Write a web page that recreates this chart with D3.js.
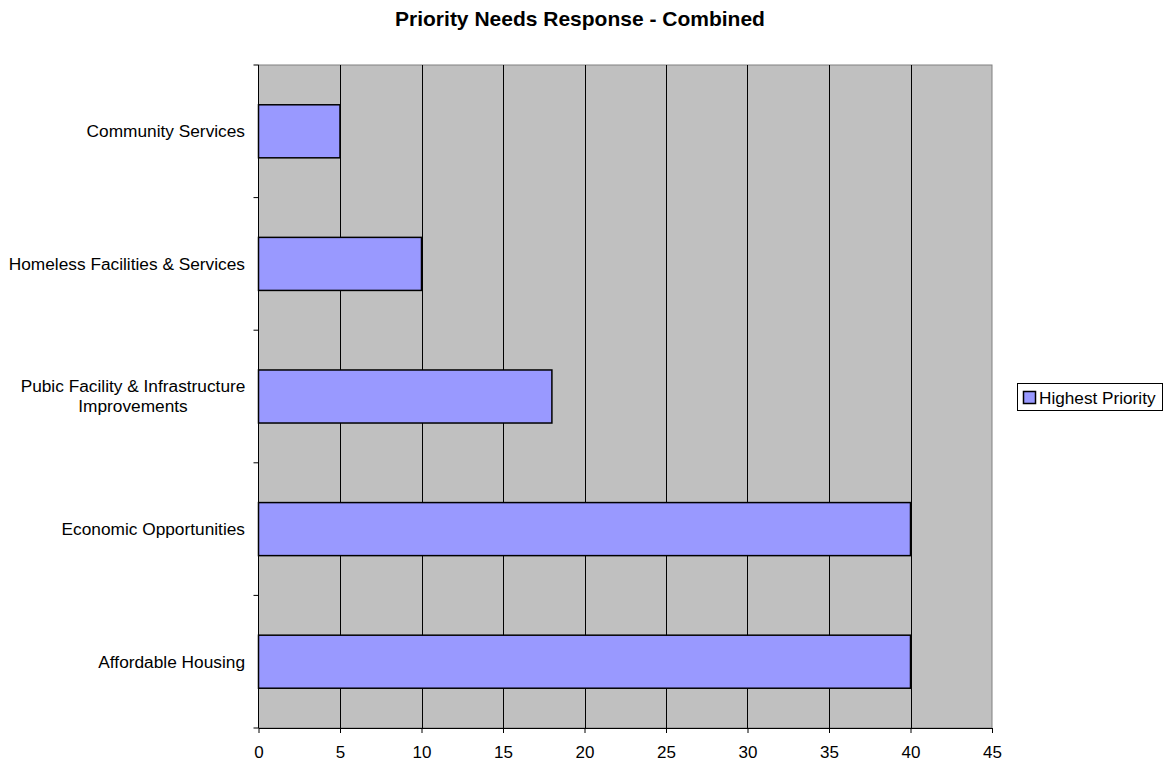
<!DOCTYPE html>
<html>
<head>
<meta charset="utf-8">
<script src="https://cdn.jsdelivr.net/npm/d3@7"></script>
<style>
body { margin: 0; background: #fff; }
text { font-family: "Liberation Sans", Arial, sans-serif; fill: #000; }
</style>
</head>
<body>
<svg width="1168" height="763"></svg>
<script>
var categories = ["Community Services", "Homeless Facilities & Services",
    "Pubic Facility & Infrastructure Improvements", "Economic Opportunities", "Affordable Housing"];
var values = [5, 10, 18, 40, 40];
var xTicks = [0, 5, 10, 15, 20, 25, 30, 35, 40, 45];
var seriesName = "Highest Priority";
var title = "Priority Needs Response - Combined";

var svg = d3.select("svg");
var plotLeft = 258.5, plotRight = 992, plotTop = 65, plotBottom = 728;

var x = d3.scaleLinear().domain([0, 45]).range([plotLeft, plotRight]);
var y = d3.scaleBand().domain(categories).range([plotTop, plotBottom]).paddingInner(0.6).paddingOuter(0.3);
var band = (plotBottom - plotTop) / categories.length;

svg.append("text")
    .attr("x", 580).attr("y", 26)
    .attr("text-anchor", "middle")
    .style("font-size", "21px").style("font-weight", "bold")
    .text(title);

// plot background
svg.append("rect")
    .attr("x", plotLeft).attr("y", plotTop)
    .attr("width", plotRight - plotLeft).attr("height", plotBottom - plotTop)
    .attr("fill", "#c0c0c0").attr("stroke", "#808080").attr("stroke-width", 1);

// grid lines
svg.selectAll(".grid").data(xTicks.slice(1, -1)).enter().append("line")
    .attr("class", "grid")
    .attr("x1", function (d) { return Math.round(x(d)) + 0.5; })
    .attr("x2", function (d) { return Math.round(x(d)) + 0.5; })
    .attr("y1", plotTop).attr("y2", plotBottom)
    .attr("stroke", "#000").attr("stroke-width", 1);

// bars
svg.selectAll(".bar").data(values).enter().append("rect")
    .attr("class", "bar")
    .attr("x", x(0))
    .attr("y", function (d, i) { return y(categories[i]); })
    .attr("width", function (d) { return x(d) - x(0); })
    .attr("height", y.bandwidth())
    .attr("fill", "#9999ff").attr("stroke", "#000").attr("stroke-width", 1.5);

// x axis
var xAxis = d3.axisBottom(x).tickValues(xTicks).tickSize(5).tickSizeOuter(0).tickPadding(13);
var gx = svg.append("g").attr("transform", "translate(0," + plotBottom + ")").call(xAxis);
gx.selectAll("text").style("font-size", "17px")
    .style("font-family", "Liberation Sans, Arial, sans-serif");
gx.select(".domain").attr("stroke", "#000");

// y axis line and ticks at band boundaries
svg.append("line")
    .attr("x1", plotLeft).attr("x2", plotLeft).attr("y1", plotTop).attr("y2", plotBottom)
    .attr("stroke", "#000");
svg.selectAll(".ytick").data(d3.range(categories.length + 1)).enter().append("line")
    .attr("class", "ytick")
    .attr("x1", plotLeft - 5).attr("x2", plotLeft)
    .attr("y1", function (i) { return plotTop + i * band; })
    .attr("y2", function (i) { return plotTop + i * band; })
    .attr("stroke", "#000");

// category labels
svg.selectAll(".cat").data(categories).enter().append("text")
    .attr("class", "cat")
    .attr("text-anchor", "middle")
    .style("font-size", "17.3px")
    .each(function (d) {
        var t = d3.select(this);
        var cy = y(d) + y.bandwidth() / 2;
        if (d.length > 35) {
            var lines = ["Pubic Facility & Infrastructure", "Improvements"];
            t.attr("x", 133).attr("y", cy - 5);
            t.append("tspan").attr("x", 133).attr("dy", 0).text(lines[0]);
            t.append("tspan").attr("x", 133).attr("dy", 20).text(lines[1]);
        } else {
            t.attr("text-anchor", "end").attr("x", 245).attr("y", cy + 6).text(d);
        }
    });

// legend
var lg = svg.append("g").attr("transform", "translate(1017.5,383.5)");
lg.append("rect").attr("width", 145).attr("height", 27)
    .attr("fill", "#fff").attr("stroke", "#000");
lg.append("rect").attr("x", 6).attr("y", 8).attr("width", 12).attr("height", 12)
    .attr("fill", "#9999ff").attr("stroke", "#000").attr("stroke-width", 1.5);
lg.append("text").attr("x", 21.5).attr("y", 20.5).style("font-size", "17.2px").text(seriesName);
</script>
</body>
</html>
